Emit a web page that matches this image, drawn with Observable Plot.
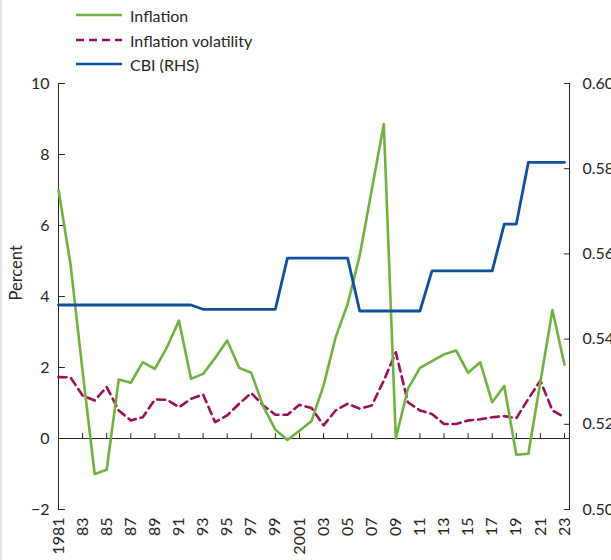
<!DOCTYPE html>
<html>
<head>
<meta charset="utf-8">
<script src="https://cdn.jsdelivr.net/npm/d3@7"></script>
<script src="https://cdn.jsdelivr.net/npm/@observablehq/plot@0.6"></script>
<style>
  html, body { margin: 0; padding: 0; background: #fff; }
  body { width: 611px; height: 560px; overflow: hidden; position: relative; font-family: Lato, "Noto Sans", sans-serif; color: #262626; }
  #edge { position: absolute; left: 0; top: 0; width: 2px; height: 560px; background: #e6e6e6; }
  #legend { position: relative; height: 76px; }
  .row { position: absolute; left: 76px; height: 20px; display: flex; align-items: center; font-size: 16px; white-space: nowrap; }
  .row span { margin-left: 8px; }
  #chart svg { display: block; }
</style>
</head>
<body>
<div id="edge"></div>
<div id="legend"></div>
<div id="chart"></div>
<script>
// ---- data ----
const years = [1981,1982,1983,1984,1985,1986,1987,1988,1989,1990,
               1991,1992,1993,1994,1995,1996,1997,1998,1999,2000,
               2001,2002,2003,2004,2005,2006,2007,2008,2009,2010,
               2011,2012,2013,2014,2015,2016,2017,2018,2019,2020,
               2021,2022,2023];
const inflation = [7.0, 4.9, 1.9, -1.0, -0.88, 1.66, 1.57, 2.15, 1.96, 2.57,
                   3.32, 1.68, 1.82, 2.27, 2.76, 1.99, 1.85, 0.9, 0.25, -0.04,
                   0.22, 0.49, 1.49, 2.85, 3.79, 5.15, 7.0, 8.86, 0.0, 1.40,
                   1.99, 2.18, 2.37, 2.48, 1.85, 2.15, 1.02, 1.48, -0.46, -0.43,
                   1.6, 3.62, 2.08];
const volatility = [1.73, 1.72, 1.21, 1.07, 1.45, 0.79, 0.51, 0.6, 1.1, 1.09,
                    0.88, 1.12, 1.24, 0.46, 0.65, 0.98, 1.28, 0.93, 0.67, 0.67,
                    0.95, 0.86, 0.37, 0.79, 0.98, 0.84, 0.93, 1.63, 2.43, 1.02,
                    0.79, 0.69, 0.41, 0.41, 0.51, 0.54, 0.6, 0.63, 0.57, 1.12,
                    1.63, 0.79, 0.6];
const cbi = [0.548, 0.548, 0.548, 0.548, 0.548, 0.548, 0.548, 0.548, 0.548, 0.548,
             0.548, 0.548, 0.547, 0.547, 0.547, 0.547, 0.547, 0.547, 0.547, 0.559,
             0.559, 0.559, 0.559, 0.559, 0.559, 0.5466, 0.5466, 0.5466, 0.5466, 0.5466,
             0.5466, 0.556, 0.556, 0.556, 0.556, 0.556, 0.556, 0.567, 0.567, 0.5815,
             0.5815, 0.5815, 0.5815];
const xTickYears = [1981,1983,1985,1987,1989,1991,1993,1995,1997,1999,2001,2003,2005,2007,2009,2011,2013,2015,2017,2019,2021,2023];
const xTickLabels = ["1981","83","85","87","89","91","93","95","97","99","2001","03","05","07","09","11","13","15","17","19","21","23"];
const leftTicks = [-2, 0, 2, 4, 6, 8, 10];
const rightTicks = [0.50, 0.52, 0.54, 0.56, 0.58, 0.60];
const seriesNames = ["Inflation", "Inflation volatility", "CBI (RHS)"];

const GREEN = "#70b13f", MAROON = "#9b0f58", BLUE = "#0f509e", INK = "#262626";

// ---- legend ----
const legendStyles = [
  {stroke: GREEN, dash: null},
  {stroke: MAROON, dash: "8,5"},
  {stroke: BLUE, dash: null}
];
const centers = [15, 40, 64];
const legend = document.getElementById("legend");
seriesNames.forEach((name, i) => {
  const row = document.createElement("div");
  row.className = "row";
  row.style.top = (centers[i] - 10) + "px";
  const s = legendStyles[i];
  row.innerHTML = `<svg width="46" height="20"><line x1="0" x2="46" y1="10" y2="10" stroke="${s.stroke}" stroke-width="2.6" ${s.dash ? `stroke-dasharray="${s.dash}"` : ""}/></svg><span>${name}</span>`;
  legend.appendChild(row);
});

// ---- chart ----
const toLeft = v => (v - 0.5) * 120 - 2;   // map RHS (0.50–0.60) onto LHS (-2–10)
const fromLeft = v => 0.5 + (v + 2) / 120;
const rows = years.map((year, i) => ({year, inflation: inflation[i], volatility: volatility[i], cbi: cbi[i]}));
const labelOf = new Map(xTickYears.map((y, i) => [y, xTickLabels[i]]));
const tickShape = {draw(context, l) { context.moveTo(0, 0); context.lineTo(0, -l); }};

const chart = Plot.plot({
  width: 611,
  height: 484,
  marginTop: 7,
  marginBottom: 51,
  marginLeft: 58,
  marginRight: 42,
  style: {fontFamily: "Lato, 'Noto Sans', sans-serif", fontSize: "16px", color: INK, background: "transparent", overflow: "visible"},
  x: {domain: [1981, 2023], range: [58, 564]},
  y: {domain: [-2, 10]},
  marks: [
    Plot.frame({anchor: "left", stroke: INK}),
    Plot.frame({anchor: "right", stroke: INK}),
    Plot.ruleY([0], {stroke: INK}),
    Plot.vector(xTickYears, {x: d => d, y: 0, length: 5, rotate: 0, anchor: "start", shape: tickShape, stroke: INK, strokeWidth: 1}),
    Plot.vector(leftTicks, {y: d => d, frameAnchor: "left", length: 6, rotate: 90, anchor: "start", shape: tickShape, stroke: INK, strokeWidth: 1}),
    Plot.vector(rightTicks.map(toLeft), {y: d => d, frameAnchor: "right", length: 5, rotate: -90, anchor: "start", shape: tickShape, stroke: INK, strokeWidth: 1}),
    Plot.axisY(leftTicks, {anchor: "left", tickSize: 0, tickPadding: 9, tickFormat: d => d < 0 ? "\u2212" + Math.abs(d) : String(d), label: null}),
    Plot.axisY(rightTicks.map(toLeft), {anchor: "right", tickSize: 0, tickPadding: 13, tickFormat: d => fromLeft(d).toFixed(2), label: null}),
    Plot.axisX(xTickYears, {anchor: "bottom", tickSize: 0, tickPadding: 8, tickRotate: -90, tickFormat: d => labelOf.get(d), label: null}),
    Plot.text(["Percent"], {frameAnchor: "left", dx: -42, dy: 4, rotate: -90, fontSize: 16.5, fill: INK}),
    Plot.line(rows, {x: "year", y: "volatility", stroke: MAROON, strokeWidth: 2.6, strokeDasharray: "8,5"}),
    Plot.line(rows, {x: "year", y: "inflation", stroke: GREEN, strokeWidth: 2.6}),
    Plot.line(rows, {x: "year", y: d => toLeft(d.cbi), stroke: BLUE, strokeWidth: 2.8})
  ]
});
document.getElementById("chart").appendChild(chart);
</script>
</body>
</html>
